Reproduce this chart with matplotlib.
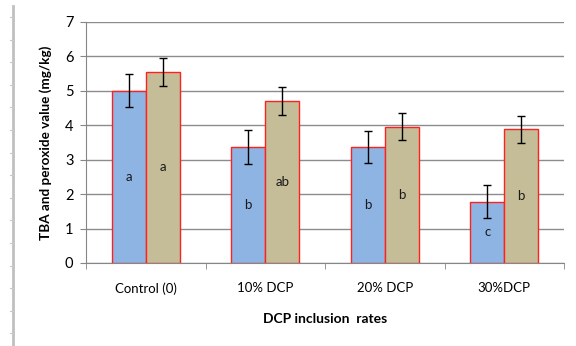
import numpy as np
import matplotlib.pyplot as plt
from matplotlib.lines import Line2D

plt.rcParams['font.family'] = ['Lato', 'DejaVu Sans']

groups = ["Control (0)", "10% DCP", "20% DCP", "30%DCP"]
tba = [5.0, 3.37, 3.37, 1.78]
tba_err = [0.48, 0.5, 0.47, 0.48]
perox = [5.55, 4.71, 3.96, 3.88]
perox_err = [0.4, 0.4, 0.4, 0.4]
tba_letters = ["a", "b", "b", "c"]
perox_letters = ["a", "ab", "b", "b"]

fig = plt.figure(figsize=(5.76, 3.46), dpi=100)
ax = fig.add_axes([0.1493, 0.240, 0.8299, 0.6965])

x = np.arange(len(groups))
w = 0.285
ax.bar(x - w/2, tba, w, color="#8EB4E3", edgecolor="#FF2020", linewidth=1.0, zorder=3)
ax.bar(x + w/2, perox, w, color="#C4BD97", edgecolor="#FF2020", linewidth=1.0, zorder=3)
ax.errorbar(x - w/2, tba, yerr=tba_err, fmt="none", ecolor="black", elinewidth=1, capsize=2.7, capthick=1, zorder=4)
ax.errorbar(x + w/2, perox, yerr=perox_err, fmt="none", ecolor="black", elinewidth=1, capsize=2.7, capthick=1, zorder=4)

# significance letters centred inside each bar
for xi, v, s in zip(x - w/2, tba, tba_letters):
    ax.text(xi, v/2, s, ha="center", va="center", fontsize=9.5, color="#1a1a1a", zorder=5)
for xi, v, s in zip(x + w/2, perox, perox_letters):
    ax.text(xi, v/2, s, ha="center", va="center", fontsize=9.5, color="#1a1a1a", zorder=5)

ax.set_xlim(-0.5, len(groups) - 0.5)
ax.set_ylim(0, 7)
ax.set_yticks(range(0, 8))
ax.set_xticks(x)
ax.set_xticklabels(groups, fontsize=9.5)
ax.set_xticks(np.arange(-0.5, len(groups)), minor=True)
ax.tick_params(axis="x", which="major", length=0, pad=14)
ax.tick_params(axis="x", which="minor", length=4, color="#868686", direction="out")
ax.tick_params(axis="y", length=4, color="#868686", labelsize=10.5, pad=5)
ax.yaxis.grid(True, color="#8C8C8C", linewidth=1, zorder=0)
ax.set_axisbelow(True)
for side in ["top", "right"]:
    ax.spines[side].set_visible(False)
for side in ["left", "bottom"]:
    ax.spines[side].set_color("#868686")

ax.set_ylabel("TBA and peroxide value (mg/kg)", fontsize=9.7, fontweight="bold", labelpad=9)
ax.set_xlabel("DCP inclusion  rates", fontsize=10, fontweight="bold", labelpad=13)

# gray ruler line on the left edge
fig.add_artist(Line2D([13/576, 13/576], [0, 1 - 6/346], color="#C0C0C0", linewidth=2))
for yy in np.arange(17, 346, 22.6):
    fig.add_artist(Line2D([10/576, 13/576], [1 - yy/346, 1 - yy/346], color="#C8C8C8", linewidth=0.8))

fig.savefig("out.png", dpi=100)
